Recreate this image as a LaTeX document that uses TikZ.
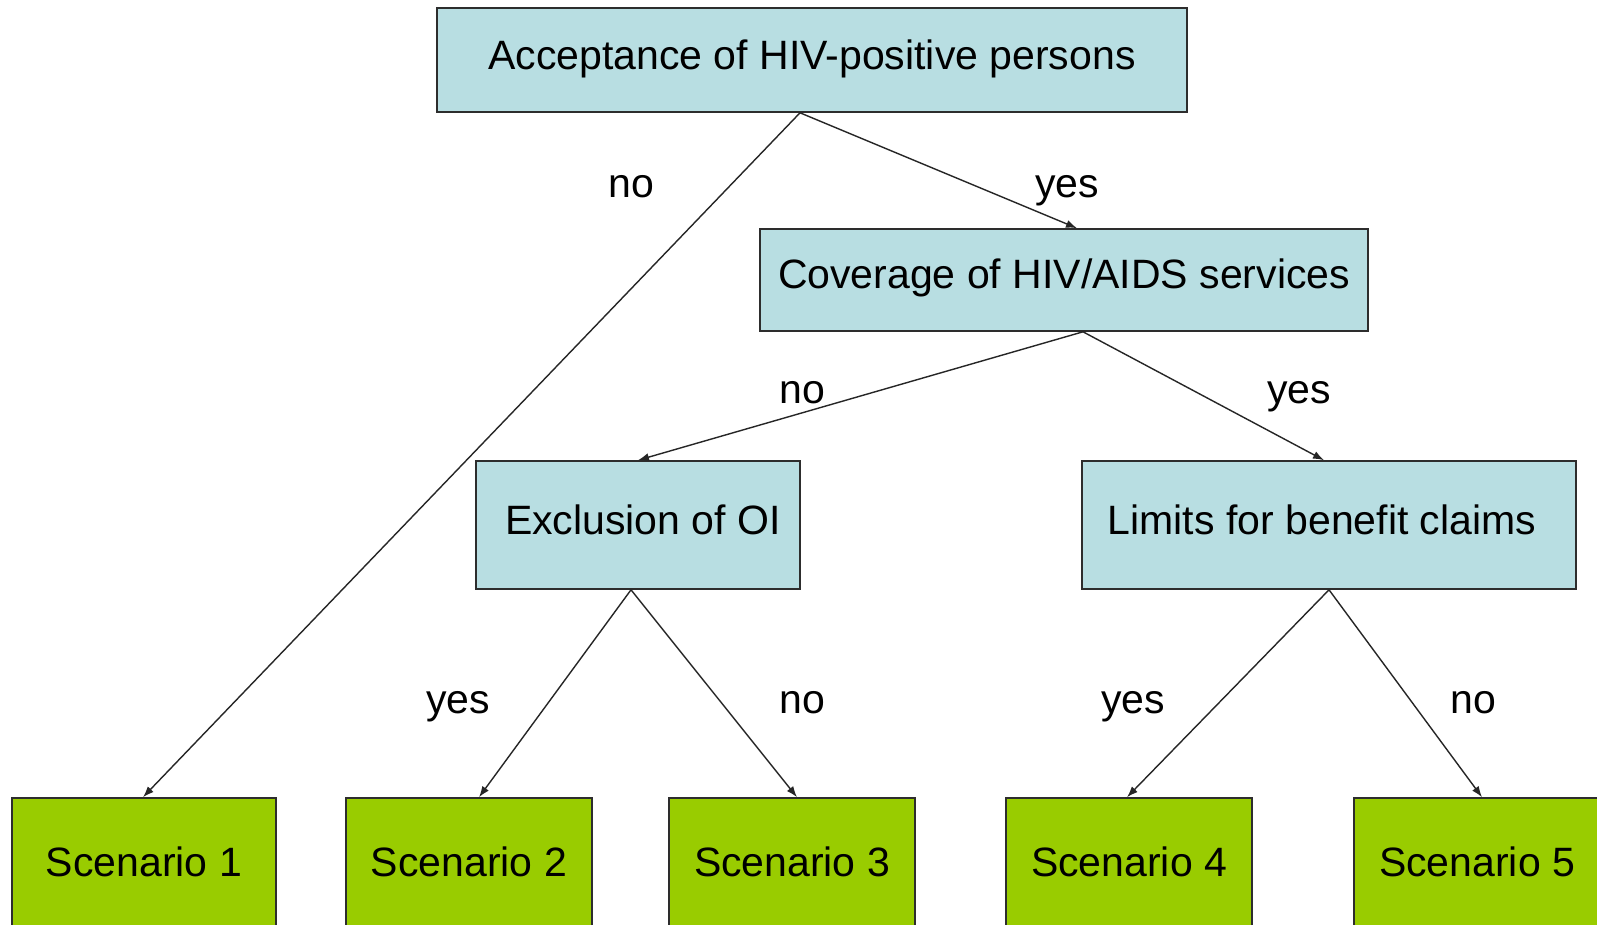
\documentclass[tikz,border=0pt]{standalone}
\usepackage{fontspec}
\setmainfont{Liberation Sans}
\usetikzlibrary{arrows.meta}
\definecolor{boxblue}{RGB}{184,222,226}
\definecolor{boxgreen}{RGB}{153,204,0}
\definecolor{edgegray}{RGB}{45,45,45}
\newcommand{\upby}[2]{\raisebox{#1}[\height][\depth]{#2}}
\begin{document}
\begin{tikzpicture}[x=1pt,y=-1pt,
  every node/.style={font=\fontsize{41}{49}\selectfont, inner sep=0pt},
  qbox/.style={draw=edgegray, line width=1.6pt, fill=boxblue, rectangle},
  sbox/.style={draw=edgegray, line width=1.6pt, fill=boxgreen, rectangle, minimum width=246pt, minimum height=128pt},
  conn/.style={draw=black!85, line width=1.4pt, -{Latex[length=11pt,width=8pt]}},
  lbl/.style={text=black, anchor=base}]
\useasboundingbox (0,0) rectangle (1597,924);
\clip (0,0) rectangle (1597,924);
\fill[white] (0,0) rectangle (1597,924);
\node[qbox, minimum width=750pt, minimum height=104pt] (top) at (812,60) {\upby{1pt}{Acceptance of HIV-positive persons}};
\node[qbox, minimum width=608pt, minimum height=102pt] (cov) at (1064,280) {\upby{2pt}{Coverage of HIV/AIDS services}};
\node[qbox, minimum width=324pt, minimum height=128pt] (excl) at (638,525) {\upby{5pt}{\hspace*{10pt}Exclusion of OI}};
\node[qbox, minimum width=494pt, minimum height=128pt] (lim) at (1329,525) {\upby{5pt}{\hspace*{-14pt}Limits for benefit claims}};
\node[sbox, minimum width=264pt] (s1) at (144,862) {Scenario 1};
\node[sbox] (s2) at (469,862) {Scenario 2};
\node[sbox] (s3) at (792,862) {Scenario 3};
\node[sbox] (s4) at (1129,862) {Scenario 4};
\node[sbox] (s5) at (1477,862) {Scenario 5};
\draw[conn] ([xshift=-12pt]top.south) -- ([xshift=-1pt]s1.north);
\draw[conn] ([xshift=-12pt]top.south) -- ([xshift=13pt]cov.north);
\draw[conn] ([xshift=19pt]cov.south) -- (excl.north);
\draw[conn] ([xshift=19pt]cov.south) -- ([xshift=-5pt]lim.north);
\draw[conn] ([xshift=-7pt]excl.south) -- ([xshift=10pt]s2.north);
\draw[conn] ([xshift=-7pt]excl.south) -- ([xshift=5pt]s3.north);
\draw[conn] ([xshift=0pt]lim.south) -- ([xshift=-2pt]s4.north);
\draw[conn] ([xshift=0pt]lim.south) -- ([xshift=5pt]s5.north);
\node[lbl] (l1) at (631,197) {no};
\node[lbl] (l2) at (1067,197) {yes};
\node[lbl] (l3) at (802,403) {no};
\node[lbl] (l4) at (1299,403) {yes};
\node[lbl] (l5) at (458,713) {yes};
\node[lbl] (l6) at (802,713) {no};
\node[lbl] (l7) at (1133,713) {yes};
\node[lbl] (l8) at (1473,713) {no};
\end{tikzpicture}
\end{document}
